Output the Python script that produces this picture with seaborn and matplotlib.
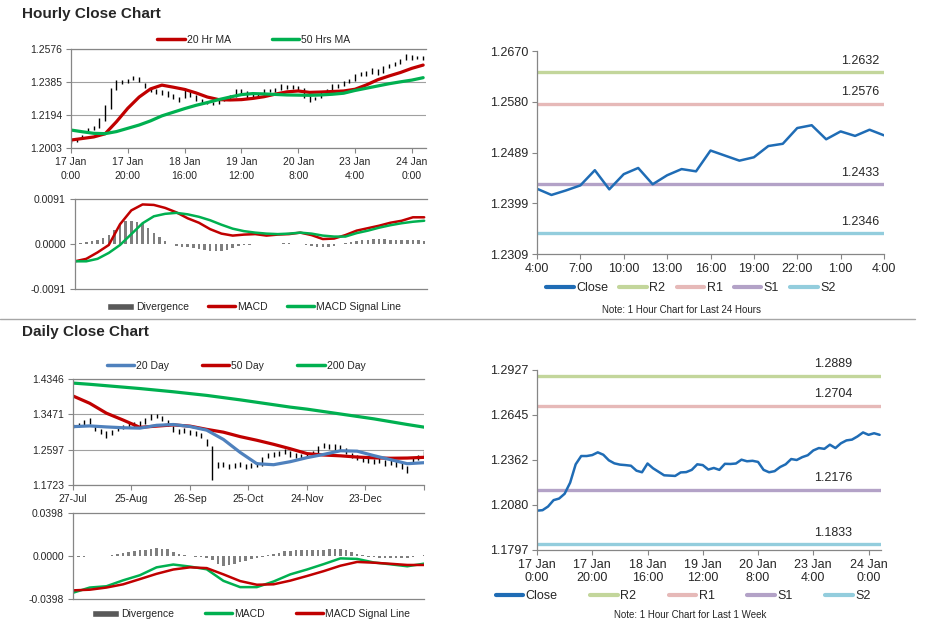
import numpy as np
import matplotlib
matplotlib.use("Agg")
import matplotlib.pyplot as plt
import seaborn as sns
from matplotlib.lines import Line2D
from matplotlib.patches import Patch

sns.set_theme(style="white")
plt.rcParams["font.family"] = ["Liberation Sans", "DejaVu Sans"]

# ---------------- hourly data (last week, one value every 2 hours) ----------------
hourly_close = [1.2044, 1.2047, 1.2070, 1.2110, 1.2120, 1.2150, 1.2220, 1.2335, 1.2387, 1.2387,
                1.2393, 1.2410, 1.2395, 1.2360, 1.2341, 1.2333, 1.2330, 1.2326, 1.2295, 1.2285,
                1.2340, 1.2310, 1.2288, 1.2266, 1.2264, 1.2262, 1.2284, 1.2286, 1.2300, 1.2335,
                1.2330, 1.2302, 1.2312, 1.2300, 1.2338, 1.2337, 1.2340, 1.2364, 1.2354, 1.2357,
                1.2350, 1.2300, 1.2285, 1.2292, 1.2318, 1.2335, 1.2368, 1.2362, 1.2380, 1.2392,
                1.2422, 1.2437, 1.2432, 1.2458, 1.2437, 1.2467, 1.2485, 1.2490, 1.2510, 1.2535,
                1.2520, 1.2530, 1.2520]
hourly_high = [1.2052, 1.2058, 1.2078, 1.2118, 1.2130, 1.2175, 1.2250, 1.2350, 1.2395, 1.2398,
               1.2402, 1.2418, 1.2412, 1.2380, 1.2352, 1.2345, 1.2340, 1.2335, 1.2318, 1.2300,
               1.2348, 1.2338, 1.2312, 1.2285, 1.2275, 1.2272, 1.2292, 1.2295, 1.2310, 1.2345,
               1.2342, 1.2332, 1.2320, 1.2315, 1.2345, 1.2346, 1.2348, 1.2372, 1.2368, 1.2366,
               1.2362, 1.2352, 1.2302, 1.2300, 1.2325, 1.2342, 1.2375, 1.2372, 1.2388, 1.2400,
               1.2430, 1.2445, 1.2446, 1.2466, 1.2462, 1.2475, 1.2492, 1.2498, 1.2518, 1.2545,
               1.2540, 1.2538, 1.2535]
hourly_low = [1.2030, 1.2040, 1.2058, 1.2095, 1.2108, 1.2118, 1.2160, 1.2230, 1.2340, 1.2375,
              1.2380, 1.2396, 1.2385, 1.2350, 1.2328, 1.2318, 1.2312, 1.2300, 1.2285, 1.2270,
              1.2290, 1.2300, 1.2275, 1.2258, 1.2255, 1.2252, 1.2260, 1.2275, 1.2282, 1.2300,
              1.2318, 1.2295, 1.2298, 1.2290, 1.2300, 1.2328, 1.2330, 1.2338, 1.2345, 1.2346,
              1.2340, 1.2290, 1.2270, 1.2278, 1.2290, 1.2315, 1.2335, 1.2352, 1.2360, 1.2378,
              1.2390, 1.2420, 1.2422, 1.2430, 1.2428, 1.2436, 1.2465, 1.2480, 1.2488, 1.2510,
              1.2512, 1.2518, 1.2512]
hourly_divergence = [0.0001, 0.0002, 0.0004, 0.0006, 0.0009, 0.0013, 0.0019, 0.0028, 0.0040, 0.0046,
                     0.0046, 0.0044, 0.0040, 0.0032, 0.0022, 0.0014, 0.0006, 0.0001, -0.0004, -0.0006,
                     -0.0007, -0.0008, -0.0010, -0.0013, -0.0015, -0.0015, -0.0014, -0.0012, -0.0009, -0.0005,
                     -0.0003, -0.0002, -0.0001, -0.0001, -0.0001, 0.0000, 0.0001, 0.0002, 0.0002, 0.0001,
                     0.0000, -0.0002, -0.0004, -0.0006, -0.0007, -0.0006, -0.0004, -0.0001, 0.0002, 0.0004,
                     0.0006, 0.0008, 0.0009, 0.0010, 0.0010, 0.0010, 0.0009, 0.0009, 0.0009, 0.0009,
                     0.0008, 0.0008, 0.0007]

# moving averages and MACD, one value every 4 hours
hourly_ma20 = [1.2049, 1.2058, 1.2067, 1.2085, 1.2155, 1.2233, 1.2298, 1.2345, 1.2367, 1.2355,
               1.2342, 1.2322, 1.2298, 1.2283, 1.2281, 1.2283, 1.2290, 1.2300, 1.2315, 1.2328,
               1.2333, 1.2325, 1.2327, 1.2330, 1.2333, 1.2343, 1.2368, 1.2398, 1.2420, 1.2440,
               1.2464, 1.2483]
hourly_ma50 = [1.2107, 1.2097, 1.2088, 1.2086, 1.2098, 1.2117, 1.2136, 1.2160, 1.2189, 1.2210,
               1.2231, 1.2250, 1.2266, 1.2283, 1.2298, 1.2312, 1.2318, 1.2316, 1.2313, 1.2310,
               1.2309, 1.2308, 1.2310, 1.2314, 1.2320, 1.2336, 1.2349, 1.2362, 1.2375, 1.2386,
               1.2396, 1.2410]
hourly_macd = [-0.0035, -0.0030, -0.0017, -0.0002, 0.0040, 0.0068, 0.0080, 0.0079, 0.0073, 0.0064,
               0.0052, 0.0043, 0.0030, 0.0021, 0.0017, 0.0019, 0.0020, 0.0017, 0.0019, 0.0020,
               0.0023, 0.0018, 0.0010, 0.0011, 0.0018, 0.0027, 0.0032, 0.0037, 0.0043, 0.0047,
               0.0054, 0.0054]
hourly_signal = [-0.0035, -0.0035, -0.0030, -0.0018, -0.0002, 0.0020, 0.0042, 0.0056, 0.0061, 0.0063,
                 0.0060, 0.0055, 0.0048, 0.0039, 0.0031, 0.0026, 0.0023, 0.0021, 0.0020, 0.0021,
                 0.0023, 0.0021, 0.0017, 0.0015, 0.0015, 0.0022, 0.0027, 0.0033, 0.0038, 0.0042,
                 0.0045, 0.0047]
hourly_ticks = ["17 Jan\n0:00", "17 Jan\n20:00", "18 Jan\n16:00", "19 Jan\n12:00",
                "20 Jan\n8:00", "23 Jan\n4:00", "24 Jan\n0:00"]

# ---------------- last 24 hours (hourly) ----------------
day_close = [1.2425, 1.2414, 1.2422, 1.2431, 1.2458, 1.2424, 1.2451, 1.2462, 1.2433, 1.2449,
             1.2460, 1.2456, 1.2493, 1.2484, 1.2475, 1.2481, 1.2501, 1.2505, 1.2533, 1.2538,
             1.2513, 1.2527, 1.2519, 1.2530, 1.2520]
day_ticks = ["4:00", "7:00", "10:00", "13:00", "16:00", "19:00", "22:00", "1:00", "4:00"]
day_levels = {"R2": 1.2632, "R1": 1.2576, "S1": 1.2433, "S2": 1.2346}
week_levels = {"R2": 1.2889, "R1": 1.2704, "S1": 1.2176, "S2": 1.1833}

# ---------------- daily data (one bar every 2 trading days) ----------------
daily_close = [1.3180, 1.3200, 1.3260, 1.3300, 1.3100, 1.3050, 1.2980, 1.3000, 1.3120, 1.3150,
               1.3200, 1.3220, 1.3250, 1.3300, 1.3400, 1.3420, 1.3350, 1.3250, 1.3100, 1.3050,
               1.3080, 1.3020, 1.3000, 1.2950, 1.2780, 1.2250, 1.2200, 1.2230, 1.2180, 1.2200,
               1.2230, 1.2180, 1.2200, 1.2220, 1.2350, 1.2450, 1.2480, 1.2500, 1.2550, 1.2480,
               1.2460, 1.2430, 1.2450, 1.2500, 1.2600, 1.2700, 1.2690, 1.2670, 1.2650, 1.2550,
               1.2450, 1.2400, 1.2350, 1.2320, 1.2300, 1.2330, 1.2280, 1.2300, 1.2250, 1.2200,
               1.2120, 1.2350, 1.2400, 1.2480]
daily_high = [1.3240, 1.3260, 1.3320, 1.3370, 1.3200, 1.3110, 1.3050, 1.3080, 1.3170, 1.3210,
              1.3260, 1.3290, 1.3310, 1.3380, 1.3470, 1.3480, 1.3420, 1.3320, 1.3180, 1.3120,
              1.3130, 1.3090, 1.3060, 1.3020, 1.2870, 1.2700, 1.2300, 1.2290, 1.2250, 1.2260,
              1.2280, 1.2250, 1.2260, 1.2280, 1.2420, 1.2520, 1.2540, 1.2560, 1.2620, 1.2560,
              1.2520, 1.2500, 1.2510, 1.2560, 1.2690, 1.2760, 1.2740, 1.2730, 1.2720, 1.2640,
              1.2520, 1.2460, 1.2410, 1.2380, 1.2360, 1.2390, 1.2350, 1.2360, 1.2320, 1.2270,
              1.2200, 1.2420, 1.2460, 1.2560]
daily_low = [1.3130, 1.3150, 1.3200, 1.3240, 1.3050, 1.2990, 1.2880, 1.2950, 1.3060, 1.3100,
             1.3140, 1.3170, 1.3180, 1.3240, 1.3330, 1.3370, 1.3300, 1.3180, 1.3040, 1.2990,
             1.3010, 1.2960, 1.2940, 1.2880, 1.2700, 1.1850, 1.2140, 1.2160, 1.2130, 1.2150,
             1.2160, 1.2130, 1.2150, 1.2170, 1.2200, 1.2380, 1.2410, 1.2430, 1.2480, 1.2420,
             1.2400, 1.2380, 1.2390, 1.2440, 1.2520, 1.2630, 1.2620, 1.2600, 1.2580, 1.2490,
             1.2390, 1.2340, 1.2290, 1.2270, 1.2240, 1.2270, 1.2200, 1.2230, 1.2180, 1.2120,
             1.2020, 1.2280, 1.2330, 1.2400]
daily_divergence = [-0.0015, -0.0010, -0.0005, -0.0003, 0.0000, 0.0002, 0.0003, 0.0008, 0.0014, 0.0025,
                    0.0035, 0.0045, 0.0052, 0.0060, 0.0066, 0.0070, 0.0068, 0.0062, 0.0040, 0.0018,
                    0.0005, 0.0000, -0.0005, -0.0010, -0.0015, -0.0035, -0.0070, -0.0092, -0.0085, -0.0075,
                    -0.0060, -0.0045, -0.0030, -0.0018, -0.0005, 0.0008, 0.0018, 0.0030, 0.0045, 0.0050,
                    0.0053, 0.0055, 0.0056, 0.0055, 0.0057, 0.0060, 0.0066, 0.0068, 0.0065, 0.0058,
                    0.0040, 0.0022, 0.0005, -0.0008, -0.0012, -0.0014, -0.0015, -0.0015, -0.0014, -0.0015,
                    -0.0016, -0.0010, -0.0002, 0.0005]

# moving averages and MACD, one value every 6 trading days
daily_ma20 = [1.3167, 1.3185, 1.3160, 1.3140, 1.3130, 1.3200, 1.3220, 1.3170, 1.3080, 1.2850,
              1.2530, 1.2250, 1.2225, 1.2300, 1.2400, 1.2480, 1.2570, 1.2560, 1.2450, 1.2350,
              1.2250, 1.2275]
daily_ma50 = [1.3926, 1.3745, 1.3500, 1.3330, 1.3150, 1.3180, 1.3210, 1.3180, 1.3100, 1.3030,
              1.2920, 1.2830, 1.2730, 1.2620, 1.2500, 1.2465, 1.2445, 1.2415, 1.2395, 1.2385,
              1.2390, 1.2408]
daily_ma200 = [1.4245, 1.4215, 1.4180, 1.4145, 1.4110, 1.4070, 1.4030, 1.3985, 1.3940, 1.3885,
               1.3830, 1.3770, 1.3710, 1.3650, 1.3600, 1.3540, 1.3480, 1.3420, 1.3360, 1.3290,
               1.3220, 1.3155]
daily_macd = [-0.0340, -0.0292, -0.0280, -0.0225, -0.0178, -0.0105, -0.0079, -0.0098, -0.0123, -0.0230,
              -0.0288, -0.0288, -0.0236, -0.0170, -0.0125, -0.0075, -0.0022, -0.0027, -0.0060, -0.0077,
              -0.0095, -0.0071]
daily_signal = [-0.0318, -0.0312, -0.0292, -0.0262, -0.0214, -0.0165, -0.0125, -0.0105, -0.0112, -0.0170,
                -0.0232, -0.0266, -0.0262, -0.0228, -0.0185, -0.0140, -0.0090, -0.0055, -0.0062, -0.0072,
                -0.0083, -0.0083]
daily_ticks = ["27-Jul", "25-Aug", "26-Sep", "25-Oct", "24-Nov", "23-Dec", ""]

# x positions
h2 = np.arange(len(hourly_close)) * 2
h4 = np.arange(len(hourly_ma20)) * 4
d2 = np.arange(len(daily_close)) * 2
d6 = np.arange(len(daily_ma20)) * 6
hday = np.arange(len(day_close))

RED, GREEN, BLUE = "#c00000", "#00b050", "#4f81bd"
GRAY = "#868686"
LEVEL_COLORS = {"R2": "#c3d69b", "R1": "#e6b9b8", "S1": "#b3a2c7", "S2": "#93cddd"}
CLOSE_BLUE = "#1f6cb5"

fig = plt.figure(figsize=(9.28, 6.38), dpi=100)
W, H = 928, 638


def add_ax(left, top, right, bottom):
    return fig.add_axes([left / W, 1 - bottom / H, (right - left) / W, (bottom - top) / H])


def style(ax, size, top_line=False):
    for s in ["top", "right"]:
        ax.spines[s].set_visible(False)
    for s in ["left", "bottom"]:
        ax.spines[s].set_color(GRAY)
        ax.spines[s].set_linewidth(0.9)
    if top_line:
        ax.spines["top"].set_visible(True)
        ax.spines["top"].set_color(GRAY)
        ax.spines["top"].set_linewidth(0.9)
    ax.tick_params(axis="both", direction="out", length=3.5, width=0.8, color=GRAY,
                   labelsize=size, pad=3, left=True, bottom=True)
    ax.set_xlabel("")
    ax.set_ylabel("")


def set_yt(ax, ticks):
    ax.set_yticks(ticks)
    ax.set_yticklabels([f"{t:.4f}" for t in ticks])
    ax.set_ylim(ticks[0], ticks[-1])


def legend(handles, labels, cx, cy, size, colsp, hl=2.6):
    fig.legend(handles, labels, loc="center", bbox_to_anchor=(cx / W, 1 - cy / H),
               ncol=len(handles), frameon=False, fontsize=size, handlelength=hl,
               handletextpad=0.2, columnspacing=colsp, borderaxespad=0, borderpad=0)


# ---------------- titles and separator ----------------
fig.text(22 / W, 1 - 14 / H, "Hourly Close Chart", fontsize=11, weight="bold", va="center")
fig.text(22 / W, 1 - 332 / H, "Daily Close Chart", fontsize=11, weight="bold", va="center")
fig.add_artist(Line2D([0, 915 / W], [1 - 319 / H] * 2, color="#a6a6a6", lw=1))

# ---------------- hourly price ----------------
ax1 = add_ax(71, 49, 426, 148)
ax1.vlines(h2, hourly_low, hourly_high, color="black", lw=1.0)
sns.lineplot(x=h4, y=hourly_ma20, ax=ax1, color=RED, lw=2.3)
sns.lineplot(x=h4, y=hourly_ma50, ax=ax1, color=GREEN, lw=2.3)
set_yt(ax1, [1.2003, 1.2194, 1.2385, 1.2576])
ax1.set_xlim(0, 125)
ax1.set_xticks([0, 20, 40, 60, 80, 100, 120])
ax1.set_xticklabels(hourly_ticks, linespacing=1.5)
ax1.yaxis.grid(True, color="#a0a0a0", lw=0.8)
style(ax1, 7.5, top_line=True)
legend([Line2D([], [], color=RED, lw=2.5), Line2D([], [], color=GREEN, lw=2.5)],
       ["20 Hr MA", "50 Hrs MA"], 254, 40, 7.5, 4.0)

# ---------------- hourly MACD ----------------
ax2 = add_ax(75, 199, 427, 289)
ax2.bar(h2, hourly_divergence, width=0.9, color="#7f7f7f", lw=0)
sns.lineplot(x=h4, y=hourly_macd, ax=ax2, color=RED, lw=1.8)
sns.lineplot(x=h4, y=hourly_signal, ax=ax2, color=GREEN, lw=1.8)
set_yt(ax2, [-0.0091, 0.0, 0.0091])
ax2.set_xlim(0, 125)
ax2.set_xticks([])
style(ax2, 7.5, top_line=True)
legend([Patch(facecolor="#595959"), Line2D([], [], color=RED, lw=2.5), Line2D([], [], color=GREEN, lw=2.5)],
       ["Divergence", "MACD", "MACD Signal Line"], 254, 307, 7.5, 1.8)

# ---------------- last 24 hours with levels ----------------
ax3 = add_ax(537, 51, 884, 254)
for name, lvl in day_levels.items():
    ax3.axhline(lvl, color=LEVEL_COLORS[name], lw=2.4)
    ax3.annotate(f"{lvl:.4f}", xy=(0.93, lvl), xycoords=("axes fraction", "data"),
                 xytext=(0, 4), textcoords="offset points", ha="center", va="bottom", fontsize=9)
sns.lineplot(x=hday, y=day_close, ax=ax3, color=CLOSE_BLUE, lw=1.8)
set_yt(ax3, [1.2309, 1.2399, 1.2489, 1.2580, 1.2670])
ax3.set_xlim(0, 24)
ax3.set_xticks(np.arange(0, 25, 3))
ax3.set_xticklabels(day_ticks)
style(ax3, 9)
lvl_handles = [Line2D([], [], color=CLOSE_BLUE, lw=3)] + \
              [Line2D([], [], color=LEVEL_COLORS[k], lw=3) for k in ["R2", "R1", "S1", "S2"]]
legend(lvl_handles, ["Close", "R2", "R1", "S1", "S2"], 691, 288, 9, 0.9, hl=2.2)
fig.text(682 / W, 1 - 310 / H, "Note: 1 Hour Chart for Last 24 Hours", fontsize=7, ha="center", va="center")

# ---------------- daily price ----------------
ax4 = add_ax(73, 379, 424, 485)
ax4.vlines(d2, daily_low, daily_high, color="black", lw=1.0)
sns.lineplot(x=d6, y=daily_ma200, ax=ax4, color=GREEN, lw=2.3)
sns.lineplot(x=d6, y=daily_ma50, ax=ax4, color=RED, lw=2.3)
sns.lineplot(x=d6, y=daily_ma20, ax=ax4, color=BLUE, lw=2.3)
set_yt(ax4, [1.1723, 1.2597, 1.3471, 1.4346])
ax4.set_xlim(0, 126)
ax4.set_xticks([0, 21, 42, 63, 84, 105, 126])
ax4.set_xticklabels(daily_ticks)
ax4.yaxis.grid(True, color="#a0a0a0", lw=0.8)
style(ax4, 7.5, top_line=True)
legend([Line2D([], [], color=BLUE, lw=2.5), Line2D([], [], color=RED, lw=2.5), Line2D([], [], color=GREEN, lw=2.5)],
       ["20 Day", "50 Day", "200 Day"], 236, 366, 7.5, 3.2)

# ---------------- daily MACD ----------------
ax5 = add_ax(73, 513, 424, 599)
ax5.bar(d2, daily_divergence, width=0.9, color="#7f7f7f", lw=0)
sns.lineplot(x=d6, y=daily_macd, ax=ax5, color=GREEN, lw=1.8)
sns.lineplot(x=d6, y=daily_signal, ax=ax5, color=RED, lw=1.8)
set_yt(ax5, [-0.0398, 0.0, 0.0398])
ax5.set_xlim(0, 126)
ax5.set_xticks([])
style(ax5, 7.5, top_line=True)
legend([Patch(facecolor="#595959"), Line2D([], [], color=GREEN, lw=2.5), Line2D([], [], color=RED, lw=2.5)],
       ["Divergence", "MACD", "MACD Signal Line"], 251, 614, 7.5, 3.0)

# ---------------- last week with levels ----------------
ax6 = add_ax(537, 370, 881, 550)
for name, lvl in week_levels.items():
    ax6.axhline(lvl, color=LEVEL_COLORS[name], lw=2.4)
    ax6.annotate(f"{lvl:.4f}", xy=(0.86, lvl), xycoords=("axes fraction", "data"),
                 xytext=(0, 4), textcoords="offset points", ha="center", va="bottom", fontsize=9)
sns.lineplot(x=h2, y=hourly_close, ax=ax6, color=CLOSE_BLUE, lw=1.8)
set_yt(ax6, [1.1797, 1.2080, 1.2362, 1.2645, 1.2927])
ax6.set_xlim(0, 124.5)
ax6.set_xticks([0, 20, 40, 60, 80, 100, 120])
ax6.set_xticklabels(hourly_ticks, linespacing=1.1)
style(ax6, 9)
legend(lvl_handles, ["Close", "R2", "R1", "S1", "S2"], 683, 596, 9, 2.6, hl=2.2)
fig.text(690 / W, 1 - 615 / H, "Note: 1 Hour Chart for Last 1 Week", fontsize=7, ha="center", va="center")

fig.savefig("out.png", dpi=100)
